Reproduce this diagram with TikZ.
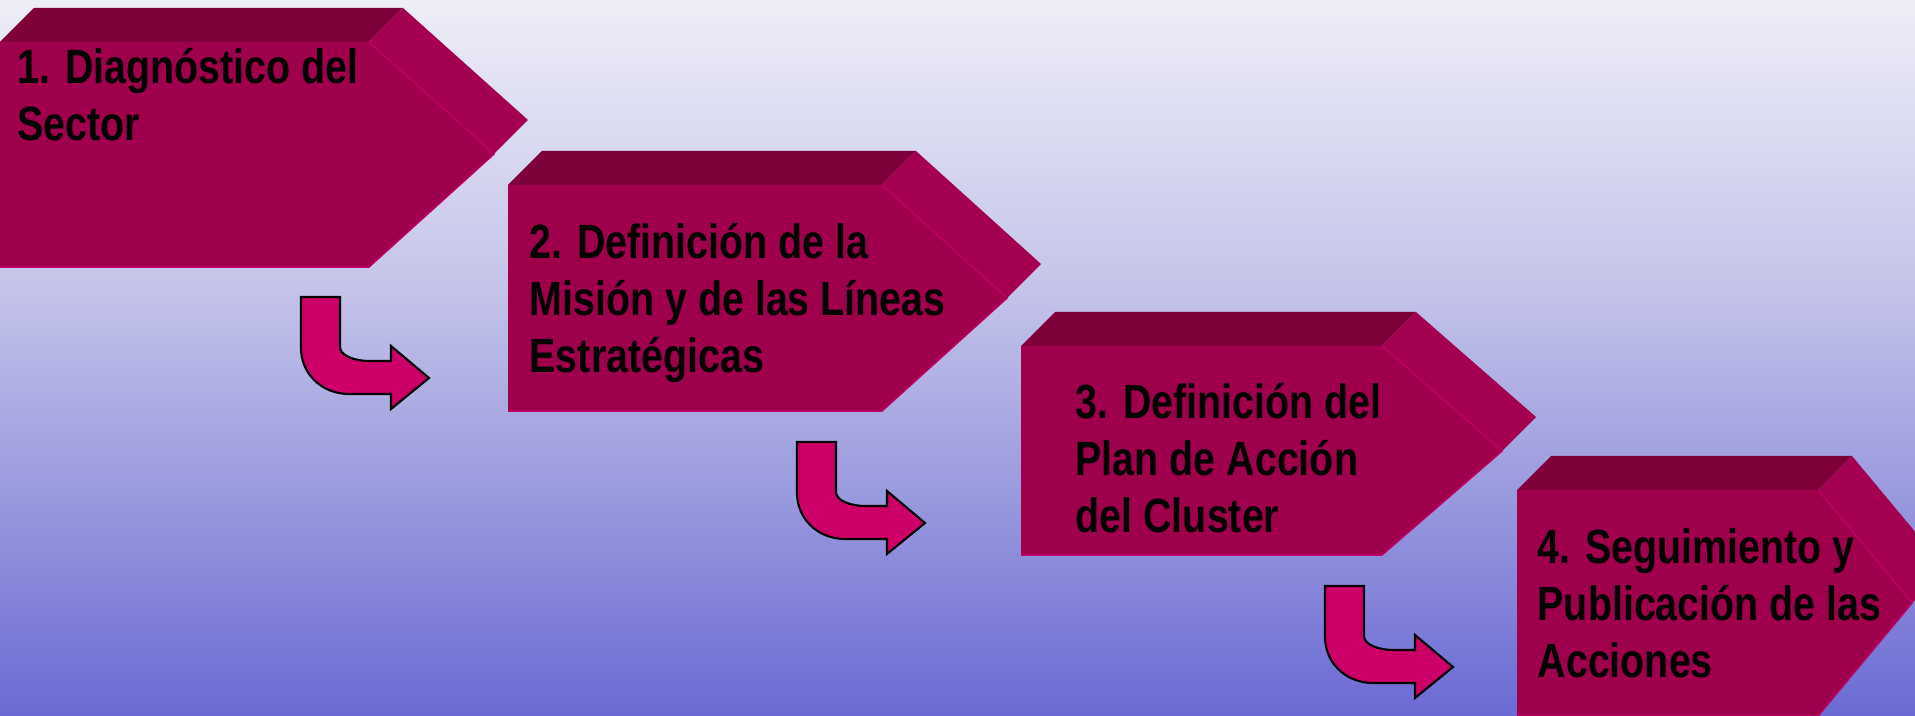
\documentclass[tikz,border=0pt]{standalone}
\usepackage{fontspec}
\newfontfamily\labelfont{Liberation Sans}[FakeStretch=0.82]
\definecolor{bgtop}{RGB}{238,238,248}
\definecolor{bgmidA}{RGB}{196,196,234}
\definecolor{bgmidB}{RGB}{152,152,222}
\definecolor{bgbot}{RGB}{106,106,212}
\definecolor{frontc}{RGB}{158,0,76}
\definecolor{topc}{RGB}{126,0,57}
\definecolor{sidec}{RGB}{164,0,80}
\definecolor{creasec}{RGB}{186,0,98}
\definecolor{arrowc}{RGB}{204,0,102}
\pgfdeclareverticalshading{bgshade}{100bp}{color(0bp)=(bgbot); color(25bp)=(bgbot); color(40bp)=(bgmidB); color(55bp)=(bgmidA); color(75bp)=(bgtop); color(100bp)=(bgtop)}
\tikzset{
  frontface/.style={fill=frontc},
  topface/.style={fill=topc},
  sideface/.style={fill=sidec},
  crease/.style={draw=creasec, line width=0.45pt, line join=miter},
  steplabel/.style={anchor=base west, inner sep=0pt, text=black,
    font=\labelfont\fontsize{13.66pt}{16.2pt}\selectfont\bfseries},
  bentarrow/.pic={
    \filldraw[fill=arrowc, draw=black, line width=0.6pt, line join=miter]
      (0,0) -- (39,0) -- (39,50) .. controls (39,58) and (52,64) .. (69,64)
      -- (90,64) -- (90,49) -- (128,81) -- (90,112) -- (90,97) -- (48,97)
      .. controls (21,97) and (0,77) .. (0,51) -- cycle;
  }
}
% #1 L, #2 T, #3 R, #4 B, #5 tip x, #6 tip y
\newcommand{\procbox}[6]{%
  \fill[topface] (#1,#2) -- (#1+34,#2-34) -- (#3+34,#2-34) -- (#3,#2) -- cycle;
  \fill[sideface] (#3,#2) -- (#3+34,#2-34) -- (#5+34,#6-34) -- (#5,#6) -- cycle;
  \fill[frontface] (#1,#2) -- (#3,#2) -- (#5,#6) -- (#3,#4) -- (#1,#4) -- cycle;
  \draw[crease] (#3,#2) -- (#5,#6) -- (#3,#4) -- (#1,#4);
}
\begin{document}
\begin{tikzpicture}[x=0.01cm,y=-0.01cm]
\useasboundingbox (0,0) rectangle (1915,716);
\clip (0,0) rectangle (1915,716);
\shade[shading=bgshade] (0,0) rectangle (1915,716);

\procbox{0}{42}{369}{267}{494}{154}
\procbox{508}{185}{882}{411}{1007}{298}
\procbox{1021}{346}{1382}{555}{1502}{451}
\procbox{1517}{490}{1818}{716}{1912}{603}

\node[steplabel] (s1) at (17,84) {\parbox[t]{6cm}{\raggedright 1. Diagnóstico del\\Sector}};
\node[steplabel] (s2) at (529,259) {\parbox[t]{6cm}{\raggedright 2. Definición de la\\Misión y de las Líneas\\Estratégicas}};
\node[steplabel] (s3) at (1075,419) {\parbox[t]{6cm}{\raggedright 3. Definición del\\Plan de Acción\\del Cluster}};
\node[steplabel] (s4) at (1537,564) {\parbox[t]{6cm}{\raggedright 4. Seguimiento y\\Publicación de las\\Acciones}};

\pic (a1) at (301,297) {bentarrow};
\pic (a2) at (797,442) {bentarrow};
\pic (a3) at (1325,586) {bentarrow};
\end{tikzpicture}
\end{document}
